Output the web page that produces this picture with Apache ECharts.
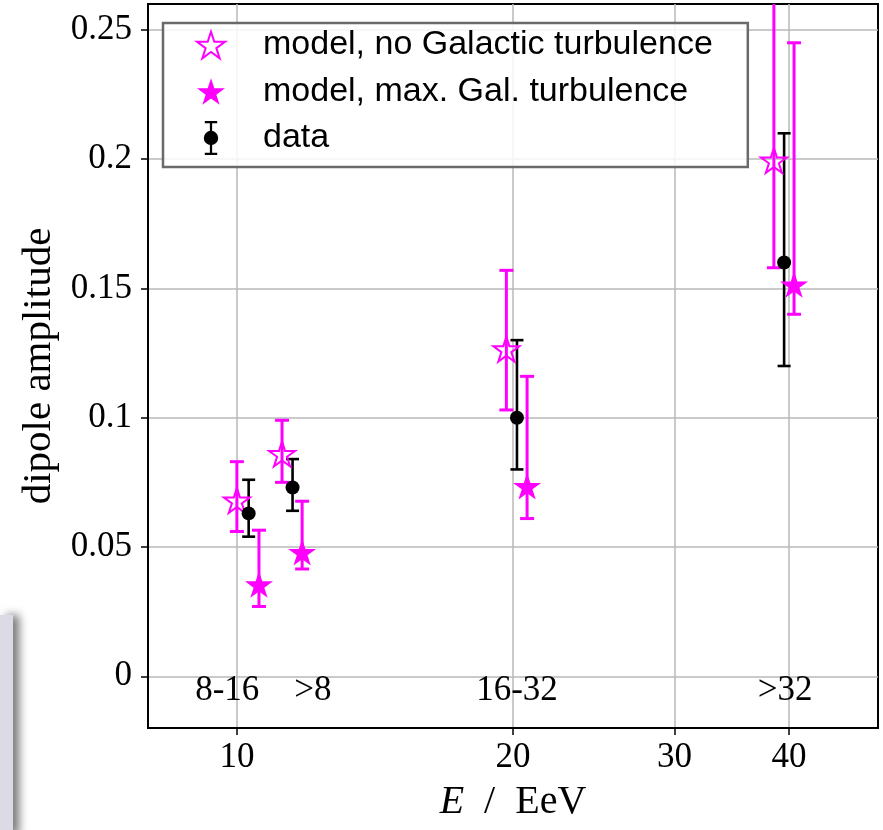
<!DOCTYPE html>
<html><head><meta charset="utf-8">
<script src="https://cdn.jsdelivr.net/npm/echarts@6/dist/echarts.min.js"></script>
<style>html,body{margin:0;padding:0;background:#fff}#c{width:883px;height:830px}</style>
</head><body><div id="c"></div>
<script>
// ---- axis ticks ----
const energyTicks = [10, 20, 30, 40];
const yTicks = [0, 0.05, 0.1, 0.15, 0.2, 0.25];

// ---- bin annotations ----
const binLabels = ['8-16', '>8', '16-32', '>32'];
const binLabelE = [9.76, 12.1, 20.2, 39.6];
const binLabelY = [-0.0055, -0.0055, -0.0055, -0.0055];

// ---- data (measured dipole amplitude) ----
const dataE   = [10.3, 11.5, 20.2, 39.5];
const dataAmp = [0.063, 0.073, 0.100, 0.160];
const dataLo  = [0.054, 0.064, 0.080, 0.120];
const dataHi  = [0.076, 0.084, 0.130, 0.210];

// ---- model, no Galactic turbulence ----
const noTurbE   = [10.0, 11.2, 19.67, 38.5];
const noTurbAmp = [0.0675, 0.0855, 0.126, 0.199];
const noTurbLo  = [0.056, 0.075, 0.103, 0.158];
const noTurbHi  = [0.083, 0.099, 0.157, 0.275];

// ---- model, max. Gal. turbulence ----
const maxTurbE   = [10.57, 11.78, 20.72, 40.5];
const maxTurbAmp = [0.035, 0.0475, 0.073, 0.151];
const maxTurbLo  = [0.027, 0.0415, 0.061, 0.140];
const maxTurbHi  = [0.0565, 0.0677, 0.116, 0.245];

const MAG = '#ff00ff';
const STAR = 'path://M100 0L122.45 69.1L195.11 69.1L136.33 111.8L158.78 180.9L100 138.2L41.22 180.9L63.67 111.8L4.89 69.1L77.55 69.1Z';
const DATA_ICON = 'path://M0.5 0h12v2.2h-12zM5.4 0h2.2v33h-2.2zM0.5 30.8h12v2.2h-12zM-0.5 16.5A7 7 0 1 1 13.5 16.5A7 7 0 1 1 -0.5 16.5Z';
const lg = Math.log10;

function errSeries(name, E, lo, hi, color, lw, capHalf) {
  return {
    type: 'custom', name: name, silent: true, clip: true,
    data: E.map((e, i) => [lg(e), lo[i], hi[i]]),
    encode: { x: 0, y: [1, 2] },
    renderItem: function (params, api) {
      const x = api.value(0);
      const a = api.coord([x, api.value(1)]);
      const b = api.coord([x, api.value(2)]);
      const st = { stroke: color, lineWidth: lw };
      return { type: 'group', children: [
        { type: 'line', shape: { x1: a[0], y1: a[1], x2: b[0], y2: b[1] }, style: st },
        { type: 'line', shape: { x1: a[0] - capHalf, y1: a[1], x2: a[0] + capHalf, y2: a[1] }, style: st },
        { type: 'line', shape: { x1: b[0] - capHalf, y1: b[1], x2: b[0] + capHalf, y2: b[1] }, style: st }
      ]};
    }
  };
}

const serif = 'Liberation Serif';
const chart = echarts.init(document.getElementById('c'), null, { renderer: 'canvas' });
chart.setOption({
  animation: false,
  backgroundColor: '#fff',
  graphic: [{
    type: 'rect', z: -10,
    shape: { x: 0, y: 615, width: 13, height: 220 },
    style: { fill: '#dbdae5', shadowBlur: 10, shadowOffsetX: 6, shadowColor: 'rgba(0,0,0,0.55)' }
  }],
  grid: { left: 148, right: 5, top: 4, bottom: 102, show: true, borderColor: '#000', borderWidth: 2, backgroundColor: 'transparent' },
  xAxis: {
    type: 'value', min: lg(8), max: lg(50),
    name: '{i|E}  /  EeV', nameLocation: 'middle', nameGap: 54,
    nameTextStyle: { fontFamily: serif, fontSize: 40, color: '#000',
      rich: { i: { fontFamily: serif, fontStyle: 'italic', fontSize: 40, color: '#000' } } },
    axisLine: { onZero: false, lineStyle: { color: '#000', width: 2 } },
    axisTick: { show: true, length: 7, lineStyle: { color: '#000', width: 1.5 }, customValues: energyTicks.map(lg) },
    axisLabel: { customValues: energyTicks.map(lg), margin: 12, fontFamily: serif, fontSize: 35, color: '#000',
      formatter: v => String(Math.round(Math.pow(10, v))) },
    splitLine: { show: true, lineStyle: { color: '#b8b8b8', width: 1.5 } }
  },
  yAxis: {
    type: 'value', min: -0.02, max: 0.26,
    name: 'dipole amplitude', nameLocation: 'middle', nameGap: 86,
    nameTextStyle: { fontFamily: serif, fontSize: 41, color: '#000' },
    axisLine: { show: true, onZero: false, lineStyle: { color: '#000', width: 2 } },
    axisTick: { show: true, length: 7, lineStyle: { color: '#000', width: 1.5 }, customValues: yTicks },
    axisLabel: { customValues: yTicks, margin: 16, fontFamily: serif, fontSize: 35, color: '#000',
      formatter: v => (Math.abs(v) < 1e-9 ? '0' : String(+v.toFixed(2))) },
    splitLine: { show: true, lineStyle: { color: '#b8b8b8', width: 1.5 } }
  },
  legend: {
    orient: 'vertical', left: 163, top: 23,
    padding: [5, 35, 12, 33],
    itemWidth: 28, itemHeight: 34, itemGap: 12.5,
    backgroundColor: 'rgba(255,255,255,0.85)', borderColor: '#6a6a6a', borderWidth: 2.5, borderRadius: 0,
    textStyle: { fontFamily: 'Liberation Sans', fontSize: 34, color: '#000', padding: [0, 0, 0, 33] },
    selectedMode: false,
    data: [
      { name: 'model, no Galactic turbulence', icon: STAR, itemStyle: { color: 'rgba(0,0,0,0)', borderColor: MAG, borderWidth: 2 } },
      { name: 'model, max. Gal. turbulence', icon: STAR, itemStyle: { color: MAG, borderWidth: 0 } },
      { name: 'data', icon: DATA_ICON, itemStyle: { color: '#000', borderWidth: 0 } }
    ]
  },
  series: [
    errSeries('err-noTurb', noTurbE, noTurbLo, noTurbHi, MAG, 3, 7),
    {
      type: 'scatter', name: 'model, no Galactic turbulence',
      data: noTurbE.map((e, i) => [lg(e), noTurbAmp[i]]),
      symbol: STAR, symbolSize: [26, 24.7], symbolOffset: [0, -1.3],
      itemStyle: { color: 'rgba(0,0,0,0)', borderColor: MAG, borderWidth: 2, opacity: 1 }, clip: false
    },
    errSeries('err-maxTurb', maxTurbE, maxTurbLo, maxTurbHi, MAG, 3, 7),
    {
      type: 'scatter', name: 'model, max. Gal. turbulence',
      data: maxTurbE.map((e, i) => [lg(e), maxTurbAmp[i]]),
      symbol: STAR, symbolSize: [28, 26.6], symbolOffset: [0, -1.3],
      itemStyle: { color: MAG, opacity: 1 }
    },
    errSeries('err-data', dataE, dataLo, dataHi, '#000', 2.6, 6.5),
    {
      type: 'scatter', name: 'data',
      data: dataE.map((e, i) => [lg(e), dataAmp[i]]),
      symbol: 'circle', symbolSize: 14,
      itemStyle: { color: '#000', opacity: 1 }
    },
    {
      type: 'scatter', name: 'bins', silent: true, symbolSize: 0,
      itemStyle: { opacity: 1, color: '#000' },
      data: binLabelE.map((e, i) => ({ value: [lg(e), binLabelY[i]], label: { formatter: binLabels[i] } })),
      label: { show: true, position: 'inside', fontFamily: serif, fontSize: 35, color: '#000', opacity: 1 }
    }
  ]
});
</script></body></html>
